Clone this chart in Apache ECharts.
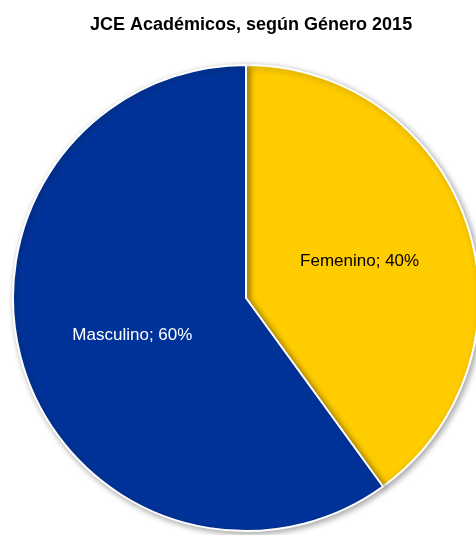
<!DOCTYPE html>
<html><head><meta charset="utf-8">
<script src="https://cdn.jsdelivr.net/npm/echarts@6/dist/echarts.min.js"></script>
<style>html,body{margin:0;padding:0;background:#fff}#c{width:476px;height:535px}</style>
</head><body><div id="c"></div>
<script>
const categories = ["Femenino", "Masculino"];
const values = [40, 60];
const colors = ["#FFCC00", "#003399"];
const labelColors = ["#000000", "#FFFFFF"];
const chart = echarts.init(document.getElementById('c'));
chart.setOption({
  animation: false,
  title: {
    text: 'JCE Académicos, según Género 2015',
    left: 85, top: 11,
    textStyle: { fontFamily: '"Liberation Sans", Arial', fontWeight: 'bold', fontSize: 18, color: '#000' }
  },
  series: [{
    type: 'pie',
    center: [246, 298],
    radius: 233,
    startAngle: 90,
    clockwise: true,
    data: categories.map((c, i) => ({
      name: c, value: values[i],
      itemStyle: { color: colors[i] },
      label: { color: labelColors[i] }
    })),
    itemStyle: { borderColor: '#fff', borderWidth: 2, shadowColor: 'rgba(0,0,0,0.35)', shadowBlur: 6, shadowOffsetX: 2, shadowOffsetY: 2 },
    label: {
      show: true, position: 'inside',
      formatter: p => p.name + '; ' + p.value + '%',
      fontFamily: '"Liberation Sans", Arial',
      fontSize: 17
    },
    labelLine: { show: false }
  }]
});
</script></body></html>
